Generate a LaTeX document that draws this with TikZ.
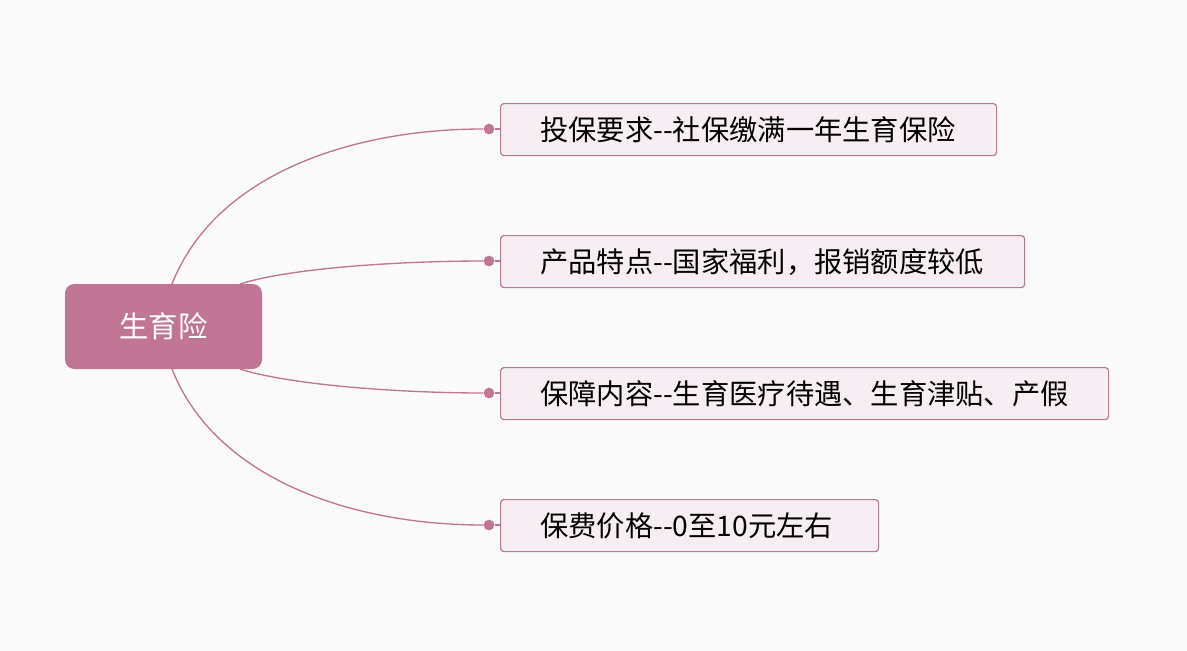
\documentclass[tikz,border=0pt]{standalone}
\usepackage{fontspec}
\setmainfont{Noto Sans CJK SC}
\definecolor{bg}{HTML}{FAFAFA}
\definecolor{mc}{HTML}{C07595}
\definecolor{lf}{HTML}{F7EEF3}
\newcommand{\dd}{{-}{-}}
\begin{document}
\begin{tikzpicture}[x=0.75pt,y=-0.75pt,
  leaf/.style={draw=mc,fill=lf,line width=0.9pt,rounded corners=2.5pt,anchor=north west,inner sep=0pt},
  lt/.style={anchor=west,inner sep=0pt,font=\fontsize{21.2}{24}\selectfont},
  link/.style={draw=mc,line width=1pt},
  dot/.style={circle,fill=mc,inner sep=0pt,minimum size=8pt}]
\fill[bg] (0,0) rectangle (1187,650);
\useasboundingbox (0,0) rectangle (1187,650);
\node[fill=mc,rounded corners=7pt,minimum width=147.75pt,minimum height=63.75pt,text=white,font=\fontsize{22}{24}\selectfont] (root) at (163.5,326.5) {生育险};
\node[leaf,minimum width=372pt,minimum height=39pt] (c1) at (500,103) {};
\node[lt] (t1) at (540,130) {投保要求\dd 社保缴满一年生育保险};
\node[leaf,minimum width=393pt,minimum height=39pt] (c2) at (500,235) {};
\node[lt] (t2) at (540,262) {产品特点\dd 国家福利，报销额度较低};
\node[leaf,minimum width=456pt,minimum height=39pt] (c3) at (500,367) {};
\node[lt] (t3) at (540,394) {保障内容\dd 生育医疗待遇、生育津贴、产假};
\node[leaf,minimum width=283.5pt,minimum height=39pt] (c4) at (500,499) {};
\node[lt] (t4) at (540,526) {保费价格\dd 0至10元左右};
\node[dot] (d1) at (489,129) {};
\node[dot] (d2) at (489,261) {};
\node[dot] (d3) at (489,393) {};
\node[dot] (d4) at (489,525) {};
\coordinate (r1) at (172,284);
\coordinate (r2) at (240,284);
\coordinate (r3) at (240,369);
\coordinate (r4) at (172,369);
\draw[link] (r1) .. controls (215,175) and (350,129) .. (d1);
\draw[link] (r2) .. controls (290,268) and (400,261) .. (d2);
\draw[link] (r3) .. controls (290,385) and (400,393) .. (d3);
\draw[link] (r4) .. controls (215,478) and (350,525) .. (d4);
\draw[mc,line width=0.9pt] (d1) -- (c1.west|-d1);
\draw[mc,line width=0.9pt] (d2) -- (c2.west|-d2);
\draw[mc,line width=0.9pt] (d3) -- (c3.west|-d3);
\draw[mc,line width=0.9pt] (d4) -- (c4.west|-d4);
\end{tikzpicture}
\end{document}
